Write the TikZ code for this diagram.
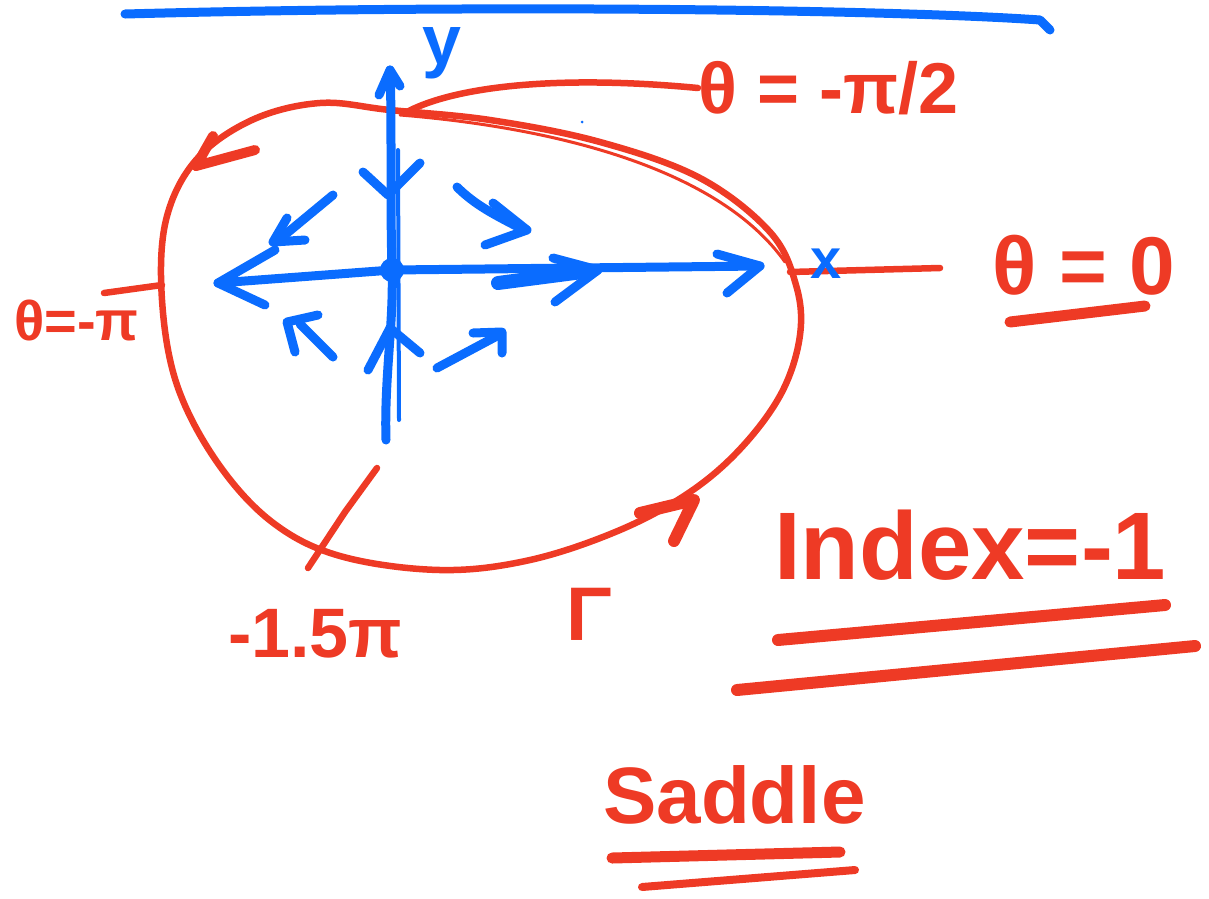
\documentclass[tikz,border=0pt]{standalone}
\usepackage{fontspec}
\setmainfont{Liberation Sans}
\definecolor{penred}{HTML}{EE3A25}
\definecolor{penblue}{HTML}{0A6CFF}
\tikzset{
  redpen/.style={draw=penred, line width=6.5pt, line cap=round, line join=round},
  bluepen/.style={draw=penblue, line width=9pt, line cap=round, line join=round},
  fatred/.style={draw=penred, line width=11pt, line cap=round},
  redtxt/.style={text=penred, font=\bfseries, inner sep=0pt},
  bluetxt/.style={text=penblue, font=\bfseries, inner sep=0pt},
}
\begin{document}
\begin{tikzpicture}[x=1pt,y=-1pt]
\useasboundingbox (0,0) rectangle (1209,898);
% top blue line
\draw[bluepen] (125,14) .. controls (500,4) and (900,10) .. (1040,20) -- (1050,30);
% closed curve Gamma
\draw[redpen] plot[smooth cycle, tension=0.6] coordinates {
 (390,110) (490,120) (600,142) (700,178) (770,232) (796,285) (800,335) (782,392)
 (742,447) (690,492) (620,530) (530,560) (440,570) (340,556) (272,522) (217,462)
 (177,385) (162,300) (166,220) (196,160) (252,120) (320,103)};
\draw[draw=penred, line width=3pt, line cap=round] (400,115) .. controls (560,128) and (720,170) .. (785,262);
% arrows on Gamma
\coordinate (ga) at (196,166);
\draw[redpen, line width=10pt] (255,150) -- (ga) -- (213,136);
\coordinate (gb) at (694,500);
\draw[redpen, line width=12pt] (640,513) -- (gb) -- (674,541);
% leaders
\coordinate (cTop) at (405,113);
\coordinate (cRight) at (790,272);
\coordinate (cLeft) at (162,285);
\coordinate (cBot) at (377,468);
\node[redtxt, font=\bfseries\fontsize{72}{72}\selectfont, anchor=west] (tpi2) at (698,88) {θ = -π/2};
\node[redtxt, font=\bfseries\fontsize{82}{82}\selectfont, anchor=west] (t0) at (992,265) {θ = 0};
\node[redtxt, font=\bfseries\fontsize{56}{56}\selectfont, anchor=west] (tpi) at (14,320) {θ=-π};
\node[redtxt, font=\bfseries\fontsize{70}{70}\selectfont, anchor=west] (t15) at (228,634) {-1.5π};
\node[redtxt, font=\bfseries\fontsize{76}{76}\selectfont, anchor=west] (tG) at (566,614) {Γ};
\draw[redpen] (cTop) .. controls (450,88) and (550,74) .. (tpi2.west);
\draw[redpen] (cRight) -- (940,268);
\draw[redpen] (104,293) -- (cLeft);
\draw[redpen] (cBot) -- (345,512) -- (308,568);
% big labels
\node[redtxt, font=\bfseries\fontsize{96}{96}\selectfont, anchor=west] (tIdx) at (774,545) {Index=-1};
\node[redtxt, font=\bfseries\fontsize{80}{80}\selectfont, anchor=west] (tSad) at (603,795) {Saddle};
\draw[fatred] (1010,322) -- (1145,306);
\draw[fatred, line width=12pt] (778,640) -- (1165,605);
\draw[fatred, line width=12pt] (737,690) -- (1195,646);
\draw[fatred] (612,858) -- (840,852);
\draw[fatred, line width=8pt] (642,887) -- (855,870);
% axes
\coordinate (O) at (392,270);
\coordinate (xr) at (760,266);
\coordinate (xl) at (218,283);
\coordinate (yt) at (390,70);
\coordinate (yb) at (386,440);
\draw[bluepen] (xl) -- (O) -- (xr);
\draw[bluepen] (yb) .. controls (384,380) and (394,320) .. (O) .. controls (390,200) and (392,120) .. (yt);
\draw[draw=penblue, line width=4pt, line cap=round] (398,150) -- (399,420);
\fill[penblue] (O) circle (12pt);
% axis arrowheads
\draw[bluepen] (275,250) -- (xl) -- (265,305);
\draw[bluepen] (717,254) -- (xr) -- (727,293);
\draw[bluepen, line width=14pt] (498,283) -- (590,271);
\draw[bluepen] (553,258) -- (598,270) -- (555,302);
\draw[bluepen] (379,95) -- (yt) -- (400,86);
\draw[bluepen] (363,172) -- (388,195) -- (420,163);
\draw[bluepen] (368,370) -- (390,328) -- (420,353);
% diagonal arrows
\draw[bluepen] (333,195) -- (275,243);
\draw[bluepen] (287,218) -- (273,242) -- (305,240);
\draw[bluepen] (457,187) .. controls (475,205) and (495,215) .. (520,228);
\draw[bluepen] (493,203) -- (527,230) -- (485,245);
\draw[bluepen] (333,357) -- (300,324);
\draw[bluepen] (295,352) -- (287,322) -- (318,315);
\draw[bluepen] (437,368) -- (497,336);
\draw[bluepen] (473,333) -- (502,332) -- (502,353);
\fill[penblue] (582,122) circle (1.5pt);
% axis labels
\node[bluetxt, font=\bfseries\fontsize{70}{70}\selectfont, anchor=base] (ly) at (442,64) {y};
\node[bluetxt, font=\bfseries\fontsize{56}{56}\selectfont] (lx) at (826,264) {x};
\end{tikzpicture}
\end{document}
